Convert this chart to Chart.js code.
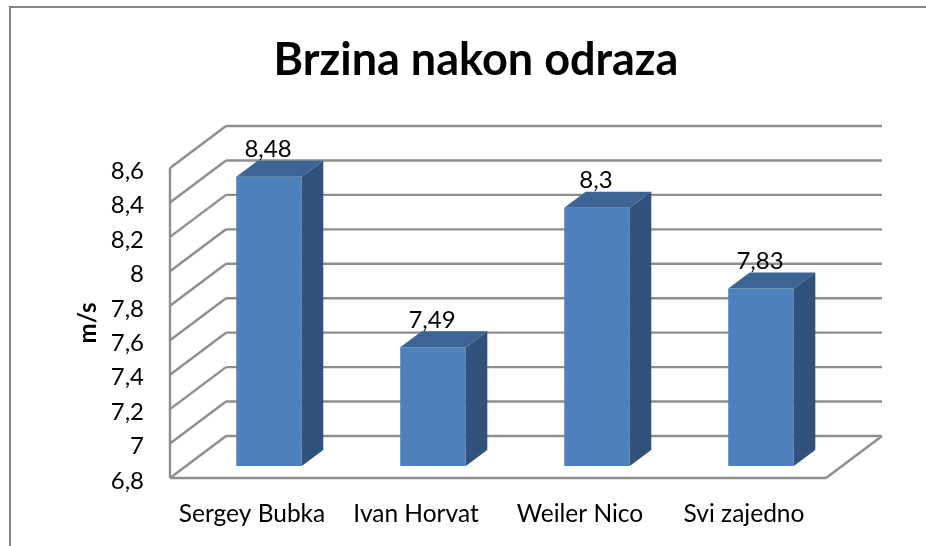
<!DOCTYPE html>
<html>
<head>
<meta charset="utf-8">
<title>Brzina nakon odraza</title>
<script src="https://cdn.jsdelivr.net/npm/chart.js@4"></script>
<style>
    html, body { margin: 0; padding: 0; background: #fff; overflow: hidden; }
    canvas { display: block; }
</style>
</head>
<body>
<canvas id="grafico" width="926" height="546"></canvas>
<script>
const categories = ['Sergey Bubka', 'Ivan Horvat', 'Weiler Nico', 'Svi zajedno'];
const brzina = [8.48, 7.49, 8.3, 7.83];
const valueLabels = ['8,48', '7,49', '8,3', '7,83'];
const tickLabels = ['6,8', '7', '7,2', '7,4', '7,6', '7,8', '8', '8,2', '8,4', '8,6'];

const fontName = 'Lato, Carlito, Calibri, sans-serif';
const gridColor = '#8e8e8e';
const frameColor = '#868686';

// pomak stupca od prednje ravnine i dubina 3D izgleda
const barShift = { x: 17, y: -12 };
const barDepth = { x: 21.5, y: -16 };
const wallDepth = { x: 56, y: -42 };

function line(ctx, x1, y1, x2, y2) {
    ctx.beginPath();
    ctx.moveTo(x1, y1);
    ctx.lineTo(x2, y2);
    ctx.stroke();
}

function polygon(ctx, color, points) {
    ctx.fillStyle = color;
    ctx.beginPath();
    points.forEach((p, i) => i ? ctx.lineTo(p[0], p[1]) : ctx.moveTo(p[0], p[1]));
    ctx.closePath();
    ctx.fill();
}

const frame3d = {
    id: 'frame3d',
    afterLayout(chart) {
        // naslov je u originalu malo desno od sredine
        chart.titleBlock.left += 26;
        chart.titleBlock.right += 26;
    },
    beforeDraw(chart) {
        const ctx = chart.ctx;
        ctx.save();
        ctx.fillStyle = '#fff';
        ctx.fillRect(0, 0, chart.width, chart.height);
        ctx.strokeStyle = frameColor;
        ctx.lineWidth = 2;
        ctx.beginPath();
        ctx.moveTo(10, chart.height);
        ctx.lineTo(10, 7);
        ctx.lineTo(chart.width, 7);
        ctx.stroke();
        ctx.restore();
    },
    beforeDatasetsDraw(chart) {
        const ctx = chart.ctx;
        const { left, right, top, bottom } = chart.chartArea;
        const y = chart.scales.y;

        ctx.save();
        ctx.strokeStyle = gridColor;
        ctx.lineWidth = 2.4;
        y.ticks.forEach((t) => {
            const py = y.getPixelForValue(t.value);
            line(ctx, left, py, left + wallDepth.x, py + wallDepth.y);
            line(ctx, left + wallDepth.x, py + wallDepth.y, right + wallDepth.x, py + wallDepth.y);
        });
        line(ctx, left, top, left, bottom);
        line(ctx, left, bottom, right, bottom);
        line(ctx, right, bottom, right + wallDepth.x, bottom + wallDepth.y);
        ctx.restore();

        // stupci se crtaju pomaknuti prema "dubini"
        ctx.save();
        ctx.translate(barShift.x, barShift.y);
    },
    afterDatasetsDraw(chart) {
        const ctx = chart.ctx;
        const bars = chart.getDatasetMeta(0).data;

        bars.forEach((bar) => {
            const l = bar.x - bar.width / 2;
            const r = bar.x + bar.width / 2;
            polygon(ctx, '#3c6494', [[l, bar.y], [l + barDepth.x, bar.y + barDepth.y], [r + barDepth.x, bar.y + barDepth.y], [r, bar.y]]);
            polygon(ctx, '#31527a', [[r, bar.y], [r + barDepth.x, bar.y + barDepth.y], [r + barDepth.x, bar.base + barDepth.y], [r, bar.base]]);
        });

        ctx.fillStyle = '#000';
        ctx.font = '24px ' + fontName;
        ctx.textAlign = 'center';
        ctx.textBaseline = 'middle';
        bars.forEach((bar, i) => {
            ctx.fillText(valueLabels[i], bar.x - 1, bar.y - 27);
        });
        ctx.restore();
    }
};

const ctx = document.getElementById('grafico').getContext('2d');
const grafico = new Chart(ctx, {
    type: 'bar',
    data: {
        labels: categories,
        datasets: [{
            label: 'Brzina nakon odraza',
            data: brzina,
            base: 6.8,
            backgroundColor: '#4f81bd',
            borderWidth: 0,
            categoryPercentage: 1,
            barPercentage: 0.4
        }]
    },
    options: {
        responsive: false,
        animation: false,
        layout: { padding: { left: 74, right: 100, top: 0, bottom: 20 } },
        plugins: {
            legend: { display: false },
            tooltip: { enabled: false },
            title: {
                display: true,
                text: 'Brzina nakon odraza',
                color: '#000',
                font: { family: fontName, size: 45, weight: 'bold' },
                padding: { top: 33, bottom: 81 }
            }
        },
        scales: {
            x: {
                afterFit(scale) { scale.height = 48; },
                grid: { display: false, tickLength: 0 },
                border: { display: false },
                ticks: {
                    color: '#000',
                    padding: 21,
                    maxRotation: 0,
                    autoSkip: false,
                    font: { family: fontName, size: 24.5 }
                }
            },
            y: {
                min: 6.8,
                max: 8.6,
                afterFit(scale) { scale.width = 96; },
                grid: { display: false, tickLength: 0 },
                border: { display: false },
                title: {
                    display: true,
                    text: 'm/s',
                    color: '#000',
                    padding: 0,
                    font: { family: fontName, size: 24, weight: 'bold' }
                },
                ticks: {
                    color: '#000',
                    stepSize: 0.2,
                    padding: 26,
                    autoSkip: false,
                    labelOffset: 3,
                    font: { family: fontName, size: 24 },
                    callback: (v, i) => tickLabels[i]
                }
            }
        }
    },
    plugins: [frame3d]
});
</script>
</body>
</html>
